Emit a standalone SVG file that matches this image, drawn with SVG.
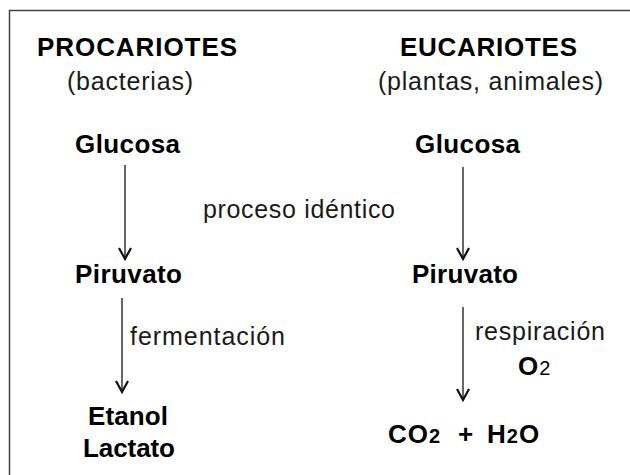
<svg xmlns="http://www.w3.org/2000/svg" width="630" height="475" viewBox="0 0 630 475">
<style>
.b{font-family:"Liberation Sans",Arial,sans-serif;font-weight:bold;font-size:26px;fill:#000}
.r{font-family:"Liberation Sans",Arial,sans-serif;font-size:25px;fill:#1a1a1a}
.s{font-size:20px}
.ln{stroke:#333;stroke-width:1.5;fill:none}
.hd{stroke:#111;stroke-width:2.2;fill:none}
</style>
<rect x="9.5" y="10.5" width="640" height="480" fill="none" stroke="#444" stroke-width="1.5"/>
<g id="procariotes"><text class="b" x="37" y="56" textLength="200">PROCARIOTES</text><text class="r" x="67" y="90" textLength="126">(bacterias)</text></g>
<g id="eucariotes"><text class="b" x="400" y="56" textLength="177">EUCARIOTES</text><text class="r" x="378" y="90" textLength="225">(plantas, animales)</text></g>
<g id="glucosa1"><text class="b" x="75" y="153" textLength="105">Glucosa</text></g>
<g id="glucosa2"><text class="b" x="415" y="153" textLength="105">Glucosa</text></g>
<g id="piruvato1"><text class="b" x="75" y="283" textLength="107">Piruvato</text></g>
<g id="piruvato2"><text class="b" x="412" y="283" textLength="106">Piruvato</text></g>
<g id="productos1"><text class="b" x="88" y="425" textLength="80">Etanol</text><text class="b" x="83" y="457" textLength="92">Lactato</text></g>
<g id="productos2"><text class="b" x="388" y="443">C<tspan dx="1">O</tspan><tspan class="s" dx="1">2</tspan></text><text class="b" x="458" y="443">+</text><text class="b" x="487" y="443">H<tspan class="s" dx="1">2</tspan><tspan dx="1">O</tspan></text></g>
<g id="connectors">
<line class="ln" x1="125" y1="165" x2="125" y2="258"/><path class="hd" d="M119,248 L125,259 L131,248"/>
<line class="ln" x1="122" y1="298" x2="122" y2="391"/><path class="hd" d="M116,381 L122,392 L128,381"/>
<line class="ln" x1="463" y1="167" x2="463" y2="258"/><path class="hd" d="M457,248 L463,259 L469,248"/>
<line class="ln" x1="463" y1="307" x2="463" y2="399"/><path class="hd" d="M457,389 L463,400 L469,389"/>
</g>
<g id="labels">
<text class="r" x="203" y="218" textLength="192">proceso idéntico</text>
<text class="r" x="130" y="345" textLength="155">fermentación</text>
<text class="r" x="475" y="340" textLength="130">respiración</text>
<text class="b" x="518" y="375">O<tspan class="s" font-weight="normal" dx="1">2</tspan></text>
</g>
</svg>
